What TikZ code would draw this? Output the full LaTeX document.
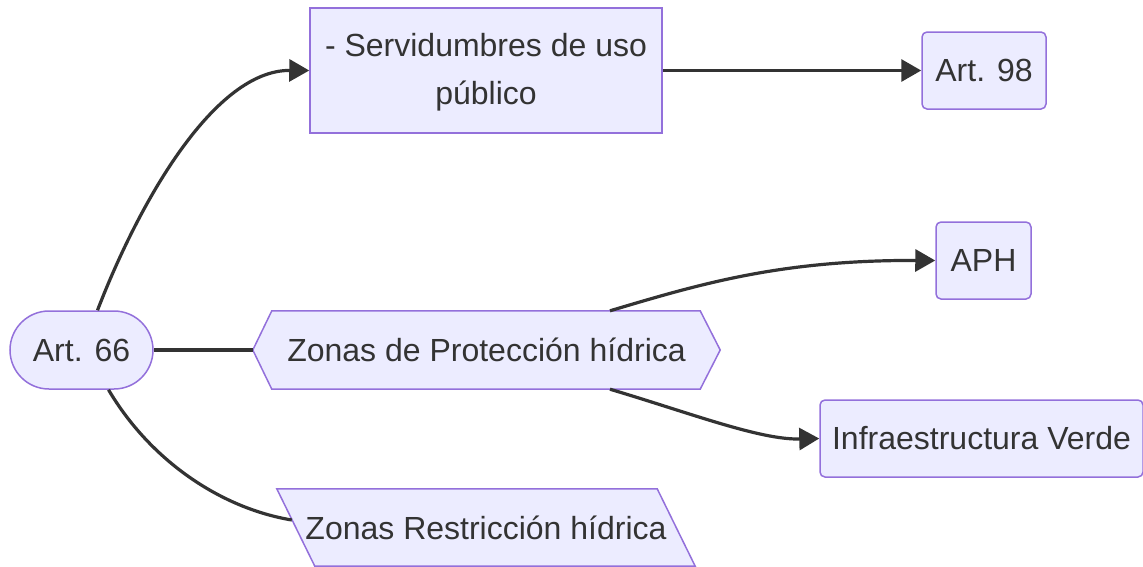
\documentclass[tikz,border=0pt]{standalone}
\usepackage{fontspec}
\setmainfont{Liberation Sans}
\usetikzlibrary{arrows.meta,backgrounds}
\definecolor{nodefill}{HTML}{ECECFF}
\definecolor{nodeline}{HTML}{9370DB}
\definecolor{ink}{HTML}{333333}
\tikzset{
  shapeline/.style={draw=nodeline,fill=nodefill,line width=1.5pt},
  label/.style={text=ink,font=\fontsize{32}{48}\selectfont,inner sep=0pt},
  box/.style={shapeline,label},
  link/.style={draw=ink,line width=3.2pt},
  arr/.style={link,-{Triangle[length=20pt,width=22pt]}}
}

\begin{document}
\begin{tikzpicture}[x=1pt,y=-1pt]
  \useasboundingbox (0,0) rectangle (1143,566);
  \node[box,rounded corners=39pt,minimum width=143pt,minimum height=78pt] (art66) at (81.5,350) {Art. 66};
  \node[box,minimum width=352pt,minimum height=125pt,align=center] (serv) at (486,70.5) {\strut- Servidumbres de uso\\público\strut};
  \node[box,rounded corners=5pt,minimum width=124pt,minimum height=77pt] (art98) at (984,70.5) {Art. 98};
  \node[box,rounded corners=5pt,minimum width=95pt,minimum height=77pt] (aph) at (983.5,260.5) {APH};
  \node[box,rounded corners=5pt,minimum width=323pt,minimum height=77pt] (infra) at (981.5,438.5) {Infraestructura Verde};
  \node[label,minimum width=467pt,minimum height=78pt] (zph) at (486.5,350) {Zonas de Protección hídrica};
  \node[label,minimum width=418pt,minimum height=77pt] (zrh) at (486,527.5) {Zonas Restricción hídrica};
  \begin{scope}[on background layer]
    % hexagon and parallelogram
    \draw[shapeline] (zph.west) -- ([xshift=19pt]zph.north west) -- ([xshift=-20pt]zph.north east)
      -- (zph.east) -- ([xshift=-20pt]zph.south east) -- ([xshift=19pt]zph.south west) -- cycle;
    \draw[shapeline] (zrh.north west) -- ([xshift=-38pt]zrh.north east) -- (zrh.south east)
      -- ([xshift=38pt]zrh.south west) -- cycle;
  \end{scope}

  \draw[arr] ([xshift=16pt]art66.north) .. controls (140,200) and (215,70) .. (serv.west);
  \draw[link] (art66.east) -- (zph.west);
  \draw[link] ([xshift=27pt]art66.south) .. controls (150,460) and (220,508) .. ([shift={(15,-7.5)}]zrh.west);
  \draw[arr] (serv.east) -- (art98.west);
  \draw[arr] ([xshift=123.5pt]zph.north) .. controls (700,284) and (780,260) .. (aph.west);
  \draw[arr] ([xshift=123.5pt]zph.south) .. controls (690,413) and (760,440) .. (infra.west);
\end{tikzpicture}
\end{document}
